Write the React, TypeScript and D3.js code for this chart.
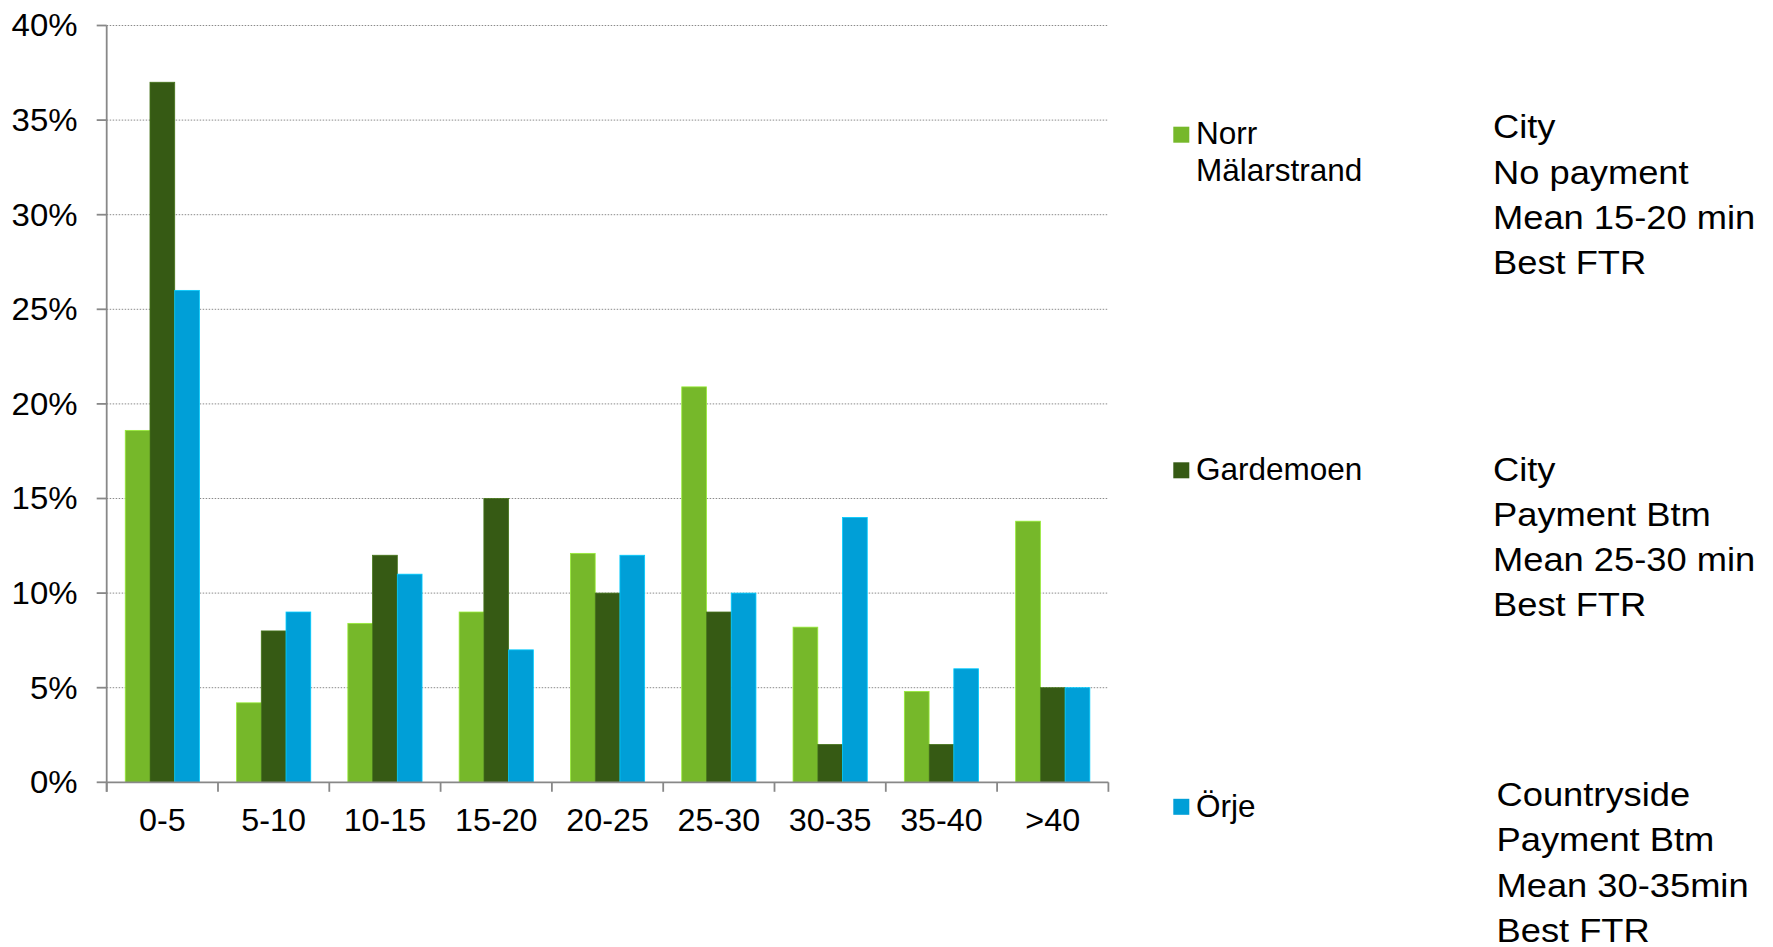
import React from "react";
import * as d3 from "d3";

// Travel-time bins (minutes)
const categories = ["0-5", "5-10", "10-15", "15-20", "20-25", "25-30", "30-35", "35-40", ">40"];

// Share of trips (%) per site and bin
const norrMalarstrand = [18.6, 4.2, 8.4, 9.0, 12.1, 20.9, 8.2, 4.8, 13.8];
const gardemoen = [37, 8, 12, 15, 10, 9, 2, 2, 5];
const orje = [26, 9, 11, 7, 12, 10, 14, 6, 5];

const seriesNames = ["Norr Mälarstrand", "Gardemoen", "Örje"];
const seriesColors = ["#76B82A", "#365A14", "#009FD7"];
const seriesValues = [norrMalarstrand, gardemoen, orje];

const yTicks = [0, 5, 10, 15, 20, 25, 30, 35, 40];

// Site descriptions shown to the right of the legend
const descriptions = [
  ["City", "No payment", "Mean 15-20 min", "Best FTR"],
  ["City", "Payment Btm", "Mean 25-30 min", "Best FTR"],
  ["Countryside", "Payment Btm", "Mean 30-35min", "Best FTR"],
];

const W = 1773;
const H = 947;
const FONT = "'Liberation Sans', Arial, Helvetica, sans-serif";
const AXIS = "#888888";

export default function App() {
  const x0 = 106.7;
  const x1 = 1108.4;
  const yTop = 25.5;
  const yBottom = 782.3;

  const x = d3.scaleBand<string>().domain(categories).range([x0, x1]).padding(0);
  const xs = d3
    .scaleBand<number>()
    .domain(d3.range(seriesNames.length))
    .range([0, x.bandwidth()])
    .paddingInner(0)
    .paddingOuter(0.75);
  const y = d3.scaleLinear().domain([0, 40]).range([yBottom, yTop]);

  const boundaries = categories.map((c) => x(c) as number).concat([x1]);

  const legendItems = [
    { lines: ["Norr", "Mälarstrand"], sq: 126.7, base: 144.3 },
    { lines: ["Gardemoen"], sq: 462.3, base: 480 },
    { lines: ["Örje"], sq: 798.8, base: 816.5 },
  ];

  const descBlocks = [
    { x: 1493, base: 138.3 },
    { x: 1493, base: 480.5 },
    { x: 1496.5, base: 806 },
  ];

  return (
    <svg
      width={W}
      height={H}
      viewBox={`0 0 ${W} ${H}`}
      style={{ position: "absolute", left: 0, top: 0, background: "#fff" }}
      fontFamily={FONT}
    >
      {/* horizontal gridlines */}
      {yTicks
        .filter((t) => t > 0)
        .map((t) => (
          <line
            key={`g${t}`}
            x1={x0}
            x2={x1}
            y1={y(t)}
            y2={y(t)}
            stroke="#8a8a8a"
            strokeWidth={1}
            strokeDasharray="1.5,1.5"
          />
        ))}

      {/* bars */}
      {seriesValues.map((vals, si) =>
        vals.map((v, ci) => {
          const bx = (x(categories[ci]) as number) + (xs(si) as number);
          const c = d3.color(seriesColors[si])!.brighter(0.7).formatHex();
          return (
            <rect
              key={`b${si}-${ci}`}
              x={bx}
              y={y(v)}
              width={xs.bandwidth()}
              height={yBottom - y(v)}
              fill={seriesColors[si]}
              stroke={c}
              strokeWidth={0.8}
            />
          );
        })
      )}

      {/* y axis */}
      <line x1={x0} x2={x0} y1={yTop} y2={yBottom + 9.5} stroke={AXIS} strokeWidth={1.8} />
      {yTicks.map((t) => (
        <g key={`yt${t}`}>
          <line x1={x0 - 10} x2={x0} y1={y(t)} y2={y(t)} stroke={AXIS} strokeWidth={1.8} />
          <g transform={`translate(77.5,${y(t)}) scale(1.08,1)`}>
            <text x={0} y={0} dy="0.36em" textAnchor="end" fontSize={30.5} fill="#000">
              {`${t}%`}
            </text>
          </g>
        </g>
      ))}

      {/* x axis */}
      <line x1={x0} x2={x1} y1={yBottom} y2={yBottom} stroke={AXIS} strokeWidth={1.8} />
      {boundaries.map((bx, i) => (
        <line key={`xt${i}`} x1={bx} x2={bx} y1={yBottom} y2={yBottom + 9.5} stroke={AXIS} strokeWidth={1.8} />
      ))}
      {categories.map((c) => (
        <g key={`xl${c}`} transform={`translate(${(x(c) as number) + x.bandwidth() / 2},831) scale(1.06,1)`}>
          <text x={0} y={0} textAnchor="middle" fontSize={30.5} fill="#000">
            {c}
          </text>
        </g>
      ))}

      {/* legend */}
      {legendItems.map((it, i) => (
        <g key={`lg${i}`}>
          <rect x={1173.3} y={it.sq} width={16} height={16} fill={seriesColors[i]} />
          <text x={1196} y={it.base} fontSize={31.5} fill="#000">
            {it.lines.map((ln, li) => (
              <tspan key={li} x={1196} dy={li === 0 ? 0 : 36.7}>
                {ln}
              </tspan>
            ))}
          </text>
        </g>
      ))}

      {/* descriptions */}
      {descriptions.map((lines, bi) => (
        <g key={`d${bi}`} transform={`translate(${descBlocks[bi].x},${descBlocks[bi].base}) scale(1.1,1)`}>
          {lines.map((ln, li) => (
            <text key={li} x={0} y={li * 45.3} fontSize={33} fill="#000">
              {ln}
            </text>
          ))}
        </g>
      ))}
    </svg>
  );
}
